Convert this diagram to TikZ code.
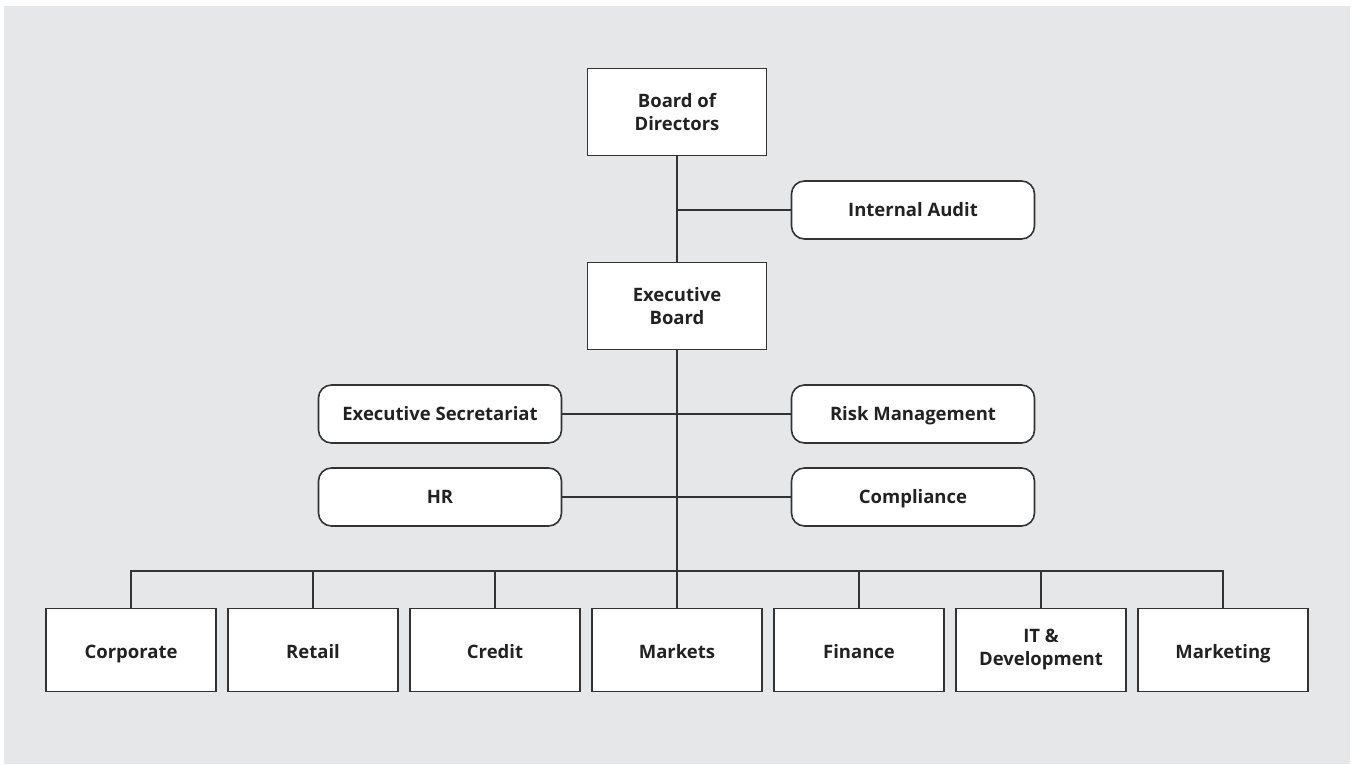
\documentclass[tikz,border=0pt]{standalone}
\usepackage{fontspec}
\setmainfont{Open Sans}
\definecolor{bg}{RGB}{230,231,233}
\definecolor{ln}{RGB}{51,51,51}
\definecolor{tx}{RGB}{34,34,34}
\begin{document}
\begin{tikzpicture}[x=1pt,y=-1pt,
  base/.style={draw=ln,line width=1.6pt,fill=white,text=tx,font=\fontsize{18.5}{23}\selectfont\bfseries,align=center,inner sep=0pt},
  one/.style={text height=14pt,text depth=1pt},
  onelow/.style={text height=16pt,text depth=0pt},
  sqbox/.style={base,minimum width=179pt,minimum height=87pt},
  rbox/.style={base,one,rounded corners=13pt,minimum width=243pt,minimum height=58pt},
  unitbox/.style={base,minimum width=170pt,minimum height=83pt},
  conn/.style={draw=ln,line width=1.6pt}]
\useasboundingbox (0,0) rectangle (1352,764);
\fill[white] (0,0) rectangle (1352,764);
\fill[bg] (4,6) rectangle (1350,764);
\node[sqbox] (bod) at (677,112) {Board of\\Directors};
\node[sqbox] (eb) at (677,306) {Executive\\Board};
\node[rbox] (ia) at (913,210) {Internal Audit};
\node[rbox] (es) at (440,414) {Executive Secretariat};
\node[rbox] (rm) at (913,414) {Risk Management};
\node[rbox] (hr) at (440,497) {HR};
\node[rbox] (co) at (913,497) {Compliance};
\node[unitbox,onelow] (u1) at (131,650) {Corporate};
\node[unitbox,onelow] (u2) at (313,650) {Retail};
\node[unitbox,onelow] (u3) at (495,650) {Credit};
\node[unitbox,onelow] (u4) at (677,650) {Markets};
\node[unitbox,onelow] (u5) at (859,650) {Finance};
\node[unitbox] (u6) at (1041,650) {IT \&\\Development};
\node[unitbox,onelow] (u7) at (1223,650) {Marketing};
\coordinate (jia) at (677,210);
\coordinate (bus) at (677,571);
\draw[conn] (bod) -- (eb);
\draw[conn] (jia) -- (ia);
\draw[conn] (eb) -- (u4);
\draw[conn] (es) -- (rm);
\draw[conn] (hr) -- (co);
\draw[conn] (u1.north) |- (bus) -| (u7.north);
\foreach \u in {u2,u3,u5,u6}{\draw[conn] (\u.north) -- (\u.north |- bus);}
\end{tikzpicture}
\end{document}
